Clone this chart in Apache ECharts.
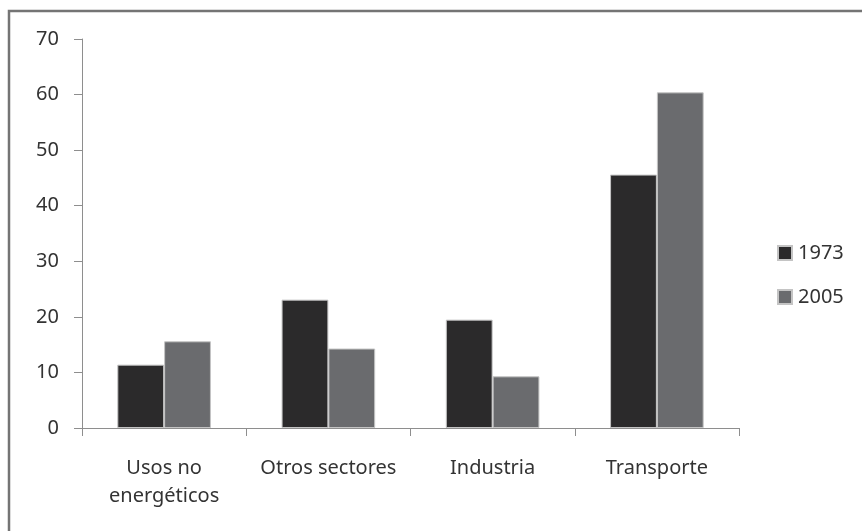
<!DOCTYPE html>
<html>
<head>
<meta charset="utf-8">
<script src="https://cdn.jsdelivr.net/npm/echarts@6/dist/echarts.min.js"></script>
<style>
  html, body { margin: 0; padding: 0; background: #fff; }
  #chart { width: 862px; height: 531px; }
</style>
</head>
<body>
<div id="chart"></div>
<script>
// Sector categories (x axis)
const categories = ['Usos no\nenergéticos', 'Otros sectores', 'Industria', 'Transporte'];
// Share by sector, in each year
const values1973 = [11.4, 23.1, 19.5, 45.6];
const values2005 = [15.6, 14.3, 9.3, 60.4];
const seriesNames = ['1973', '2005'];
// Value axis range
const yMin = 0, yMax = 70, yStep = 10;

const textColor = '#333333';
const axisColor = '#8e8e8e';
const fontFamily = '"Noto Sans", "Open Sans", sans-serif';

const chart = echarts.init(document.getElementById('chart'), null, { renderer: 'canvas' });
chart.setOption({
  animation: false,
  backgroundColor: '#ffffff',
  textStyle: { fontFamily: fontFamily, color: textColor },
  graphic: [{
    type: 'rect',
    shape: { x: 9, y: 11, width: 1000, height: 1000 },
    style: { fill: 'none', stroke: '#747474', lineWidth: 2.5 },
    silent: true
  }],
  grid: { left: 82, right: 123, top: 39, bottom: 103, containLabel: false },
  legend: {
    orient: 'vertical',
    left: 772,
    top: 236,
    itemWidth: 14,
    itemHeight: 14,
    itemGap: 20,
    icon: 'rect',
    textStyle: { fontSize: 20, color: textColor, fontFamily: fontFamily, lineHeight: 24, padding: [0, 0, 0, 1] },
    data: seriesNames
  },
  xAxis: {
    type: 'category',
    data: categories,
    axisLine: { lineStyle: { color: axisColor, width: 1 } },
    axisTick: { show: true, length: 8, lineStyle: { color: axisColor } },
    axisLabel: { fontSize: 20, color: textColor, margin: 26, lineHeight: 28, interval: 0, fontFamily: fontFamily }
  },
  yAxis: {
    type: 'value',
    min: yMin, max: yMax, interval: yStep,
    splitLine: { show: false },
    axisLine: { show: true, lineStyle: { color: axisColor, width: 1 } },
    axisTick: { show: true, length: 8, lineStyle: { color: axisColor } },
    axisLabel: { fontSize: 20, color: textColor, margin: 23, fontFamily: fontFamily }
  },
  series: [
    {
      name: seriesNames[0], type: 'bar', data: values1973,
      barGap: '0%', barCategoryGap: '43%',
      itemStyle: { color: '#2b2a2b', borderColor: '#c4c4c4', borderWidth: 1 }
    },
    {
      name: seriesNames[1], type: 'bar', data: values2005,
      barGap: '0%', barCategoryGap: '43%',
      itemStyle: { color: '#6a6b6e', borderColor: '#c4c4c4', borderWidth: 1 }
    }
  ]
});
</script>
</body>
</html>
